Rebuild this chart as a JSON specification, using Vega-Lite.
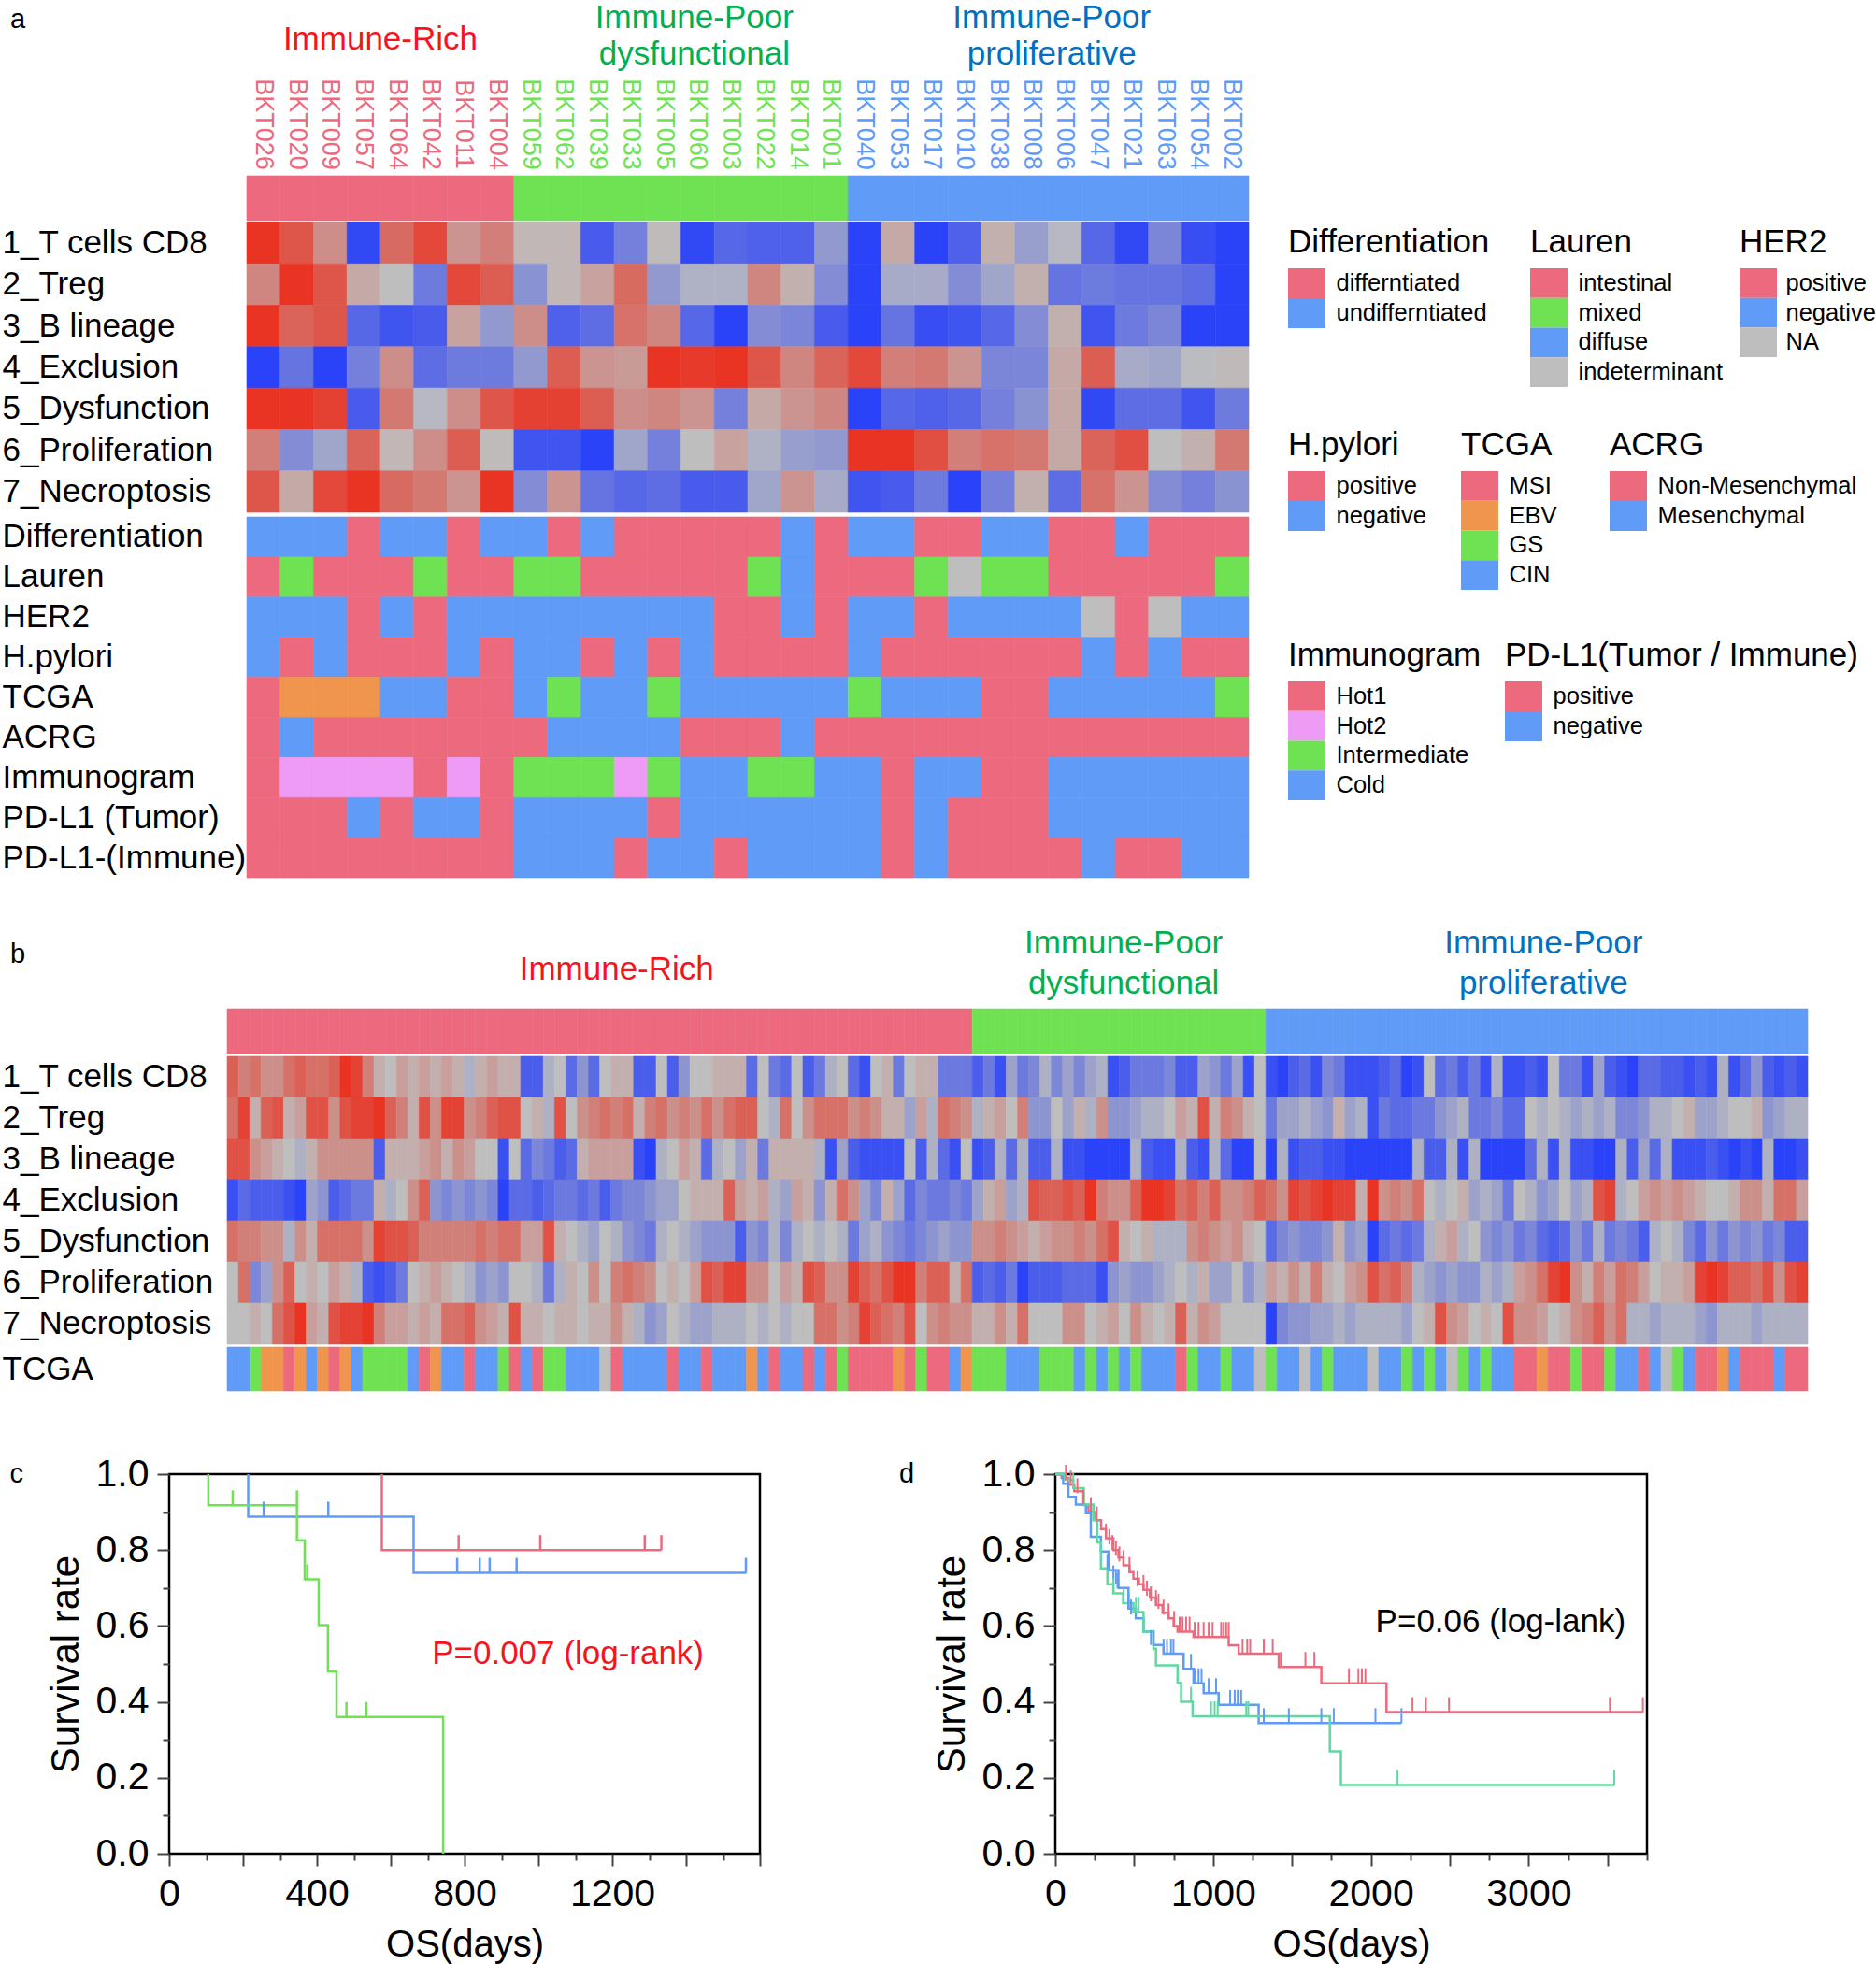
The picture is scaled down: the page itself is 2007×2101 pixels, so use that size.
{"$schema":"https://vega.github.io/schema/vega-lite/v6.json","padding":{"left":0,"right":0,"top":-6,"bottom":0},"background":"white","config":{"view":{"stroke":null},"font":"Liberation Sans","title":{"fontWeight":"normal"}},
"datasets":{
"A":[
{"s":"BKT026","g":"p","cd8":1,"treg":0.4,"bl":1,"exc":-1,"dys":1,"pro":0.45,"nec":0.75,"Dif":"n","Lau":"p","Her":"n","Pyl":"n","Tcg":"p","Acr":"p","Imm":"p","Tum":"p","Imu":"p"},
{"s":"BKT020","g":"p","cd8":0.75,"treg":1,"bl":0.65,"exc":-0.6,"dys":1,"pro":-0.4,"nec":0.15,"Dif":"n","Lau":"g","Her":"n","Pyl":"p","Tcg":"e","Acr":"n","Imm":"h","Tum":"p","Imu":"p"},
{"s":"BKT009","g":"p","cd8":0.35,"treg":0.75,"bl":0.75,"exc":-1,"dys":0.9,"pro":-0.2,"nec":0.85,"Dif":"n","Lau":"p","Her":"n","Pyl":"n","Tcg":"e","Acr":"p","Imm":"h","Tum":"p","Imu":"p"},
{"s":"BKT057","g":"p","cd8":-0.95,"treg":0.15,"bl":-0.7,"exc":-0.5,"dys":-0.8,"pro":0.65,"nec":1,"Dif":"p","Lau":"p","Her":"p","Pyl":"p","Tcg":"e","Acr":"p","Imm":"h","Tum":"n","Imu":"p"},
{"s":"BKT064","g":"p","cd8":0.6,"treg":0,"bl":-0.85,"exc":0.35,"dys":0.5,"pro":0.05,"nec":0.6,"Dif":"n","Lau":"p","Her":"n","Pyl":"p","Tcg":"n","Acr":"p","Imm":"h","Tum":"p","Imu":"p"},
{"s":"BKT042","g":"p","cd8":0.85,"treg":-0.55,"bl":-0.8,"exc":-0.65,"dys":-0.05,"pro":0.35,"nec":0.5,"Dif":"n","Lau":"g","Her":"p","Pyl":"p","Tcg":"n","Acr":"p","Imm":"p","Tum":"n","Imu":"p"},
{"s":"BKT011","g":"p","cd8":0.3,"treg":0.85,"bl":0.2,"exc":-0.55,"dys":0.35,"pro":0.7,"nec":0.3,"Dif":"p","Lau":"p","Her":"n","Pyl":"n","Tcg":"p","Acr":"p","Imm":"h","Tum":"n","Imu":"p"},
{"s":"BKT004","g":"p","cd8":0.45,"treg":0.7,"bl":-0.3,"exc":-0.55,"dys":0.75,"pro":0.02,"nec":1,"Dif":"n","Lau":"p","Her":"n","Pyl":"p","Tcg":"p","Acr":"p","Imm":"p","Tum":"p","Imu":"p"},
{"s":"BKT059","g":"g","cd8":0.05,"treg":-0.35,"bl":0.35,"exc":-0.3,"dys":0.9,"pro":-0.85,"nec":-0.4,"Dif":"n","Lau":"g","Her":"n","Pyl":"n","Tcg":"n","Acr":"p","Imm":"g","Tum":"n","Imu":"n"},
{"s":"BKT062","g":"g","cd8":0.05,"treg":0.05,"bl":-0.75,"exc":0.7,"dys":0.9,"pro":-0.85,"nec":0.3,"Dif":"p","Lau":"g","Her":"n","Pyl":"n","Tcg":"g","Acr":"n","Imm":"g","Tum":"n","Imu":"n"},
{"s":"BKT039","g":"g","cd8":-0.8,"treg":0.2,"bl":-0.65,"exc":0.3,"dys":0.7,"pro":-1,"nec":-0.6,"Dif":"n","Lau":"p","Her":"n","Pyl":"p","Tcg":"n","Acr":"n","Imm":"g","Tum":"n","Imu":"n"},
{"s":"BKT033","g":"g","cd8":-0.5,"treg":0.6,"bl":0.55,"exc":0.25,"dys":0.35,"pro":-0.2,"nec":-0.7,"Dif":"p","Lau":"p","Her":"n","Pyl":"n","Tcg":"n","Acr":"n","Imm":"h","Tum":"n","Imu":"p"},
{"s":"BKT005","g":"g","cd8":0.02,"treg":-0.3,"bl":0.4,"exc":1,"dys":0.4,"pro":-0.5,"nec":-0.65,"Dif":"p","Lau":"p","Her":"n","Pyl":"p","Tcg":"g","Acr":"n","Imm":"g","Tum":"p","Imu":"n"},
{"s":"BKT060","g":"g","cd8":-0.95,"treg":-0.1,"bl":-0.7,"exc":0.95,"dys":0.3,"pro":0,"nec":-0.8,"Dif":"p","Lau":"p","Her":"n","Pyl":"n","Tcg":"n","Acr":"p","Imm":"n","Tum":"n","Imu":"n"},
{"s":"BKT003","g":"g","cd8":-0.7,"treg":-0.1,"bl":-1,"exc":1,"dys":-0.5,"pro":0.2,"nec":-0.8,"Dif":"p","Lau":"p","Her":"p","Pyl":"p","Tcg":"n","Acr":"p","Imm":"n","Tum":"n","Imu":"p"},
{"s":"BKT022","g":"g","cd8":-0.75,"treg":0.4,"bl":-0.4,"exc":0.75,"dys":0.15,"pro":-0.1,"nec":-0.2,"Dif":"p","Lau":"g","Her":"p","Pyl":"p","Tcg":"n","Acr":"p","Imm":"g","Tum":"n","Imu":"n"},
{"s":"BKT014","g":"g","cd8":-0.75,"treg":0.1,"bl":-0.45,"exc":0.4,"dys":0.3,"pro":-0.25,"nec":0.3,"Dif":"n","Lau":"n","Her":"n","Pyl":"p","Tcg":"n","Acr":"n","Imm":"g","Tum":"n","Imu":"n"},
{"s":"BKT001","g":"g","cd8":-0.3,"treg":-0.4,"bl":-0.8,"exc":0.65,"dys":0.4,"pro":-0.3,"nec":-0.15,"Dif":"p","Lau":"p","Her":"p","Pyl":"p","Tcg":"n","Acr":"p","Imm":"n","Tum":"n","Imu":"n"},
{"s":"BKT040","g":"n","cd8":-1,"treg":-1,"bl":-1,"exc":0.85,"dys":-1,"pro":1,"nec":-0.85,"Dif":"n","Lau":"p","Her":"n","Pyl":"n","Tcg":"g","Acr":"p","Imm":"n","Tum":"n","Imu":"n"},
{"s":"BKT053","g":"n","cd8":0.15,"treg":-0.15,"bl":-0.6,"exc":0.45,"dys":-0.7,"pro":1,"nec":-0.8,"Dif":"n","Lau":"p","Her":"n","Pyl":"p","Tcg":"n","Acr":"p","Imm":"p","Tum":"p","Imu":"p"},
{"s":"BKT017","g":"n","cd8":-1,"treg":-0.15,"bl":-0.9,"exc":0.5,"dys":-0.75,"pro":0.8,"nec":-0.55,"Dif":"p","Lau":"g","Her":"p","Pyl":"p","Tcg":"n","Acr":"p","Imm":"n","Tum":"n","Imu":"n"},
{"s":"BKT010","g":"n","cd8":-0.75,"treg":-0.4,"bl":-0.85,"exc":0.3,"dys":-0.7,"pro":0.45,"nec":-1,"Dif":"p","Lau":"x","Her":"n","Pyl":"p","Tcg":"n","Acr":"p","Imm":"n","Tum":"p","Imu":"p"},
{"s":"BKT038","g":"n","cd8":0.1,"treg":-0.2,"bl":-0.7,"exc":-0.45,"dys":-0.5,"pro":0.55,"nec":-0.5,"Dif":"n","Lau":"g","Her":"n","Pyl":"p","Tcg":"p","Acr":"p","Imm":"p","Tum":"p","Imu":"p"},
{"s":"BKT008","g":"n","cd8":-0.25,"treg":0.1,"bl":-0.4,"exc":-0.45,"dys":-0.35,"pro":0.5,"nec":0.1,"Dif":"n","Lau":"g","Her":"n","Pyl":"p","Tcg":"p","Acr":"p","Imm":"p","Tum":"p","Imu":"p"},
{"s":"BKT006","g":"n","cd8":-0.05,"treg":-0.6,"bl":0.1,"exc":0.15,"dys":0.15,"pro":0.15,"nec":-0.65,"Dif":"p","Lau":"p","Her":"n","Pyl":"p","Tcg":"n","Acr":"p","Imm":"n","Tum":"n","Imu":"p"},
{"s":"BKT047","g":"n","cd8":-0.7,"treg":-0.55,"bl":-0.85,"exc":0.7,"dys":-0.95,"pro":0.65,"nec":0.55,"Dif":"p","Lau":"p","Her":"x","Pyl":"n","Tcg":"n","Acr":"p","Imm":"n","Tum":"n","Imu":"n"},
{"s":"BKT021","g":"n","cd8":-0.95,"treg":-0.6,"bl":-0.55,"exc":-0.15,"dys":-0.65,"pro":0.8,"nec":0.3,"Dif":"n","Lau":"p","Her":"p","Pyl":"p","Tcg":"n","Acr":"p","Imm":"n","Tum":"n","Imu":"p"},
{"s":"BKT063","g":"n","cd8":-0.45,"treg":-0.6,"bl":-0.45,"exc":-0.2,"dys":-0.65,"pro":0,"nec":-0.4,"Dif":"p","Lau":"p","Her":"x","Pyl":"n","Tcg":"n","Acr":"p","Imm":"n","Tum":"n","Imu":"p"},
{"s":"BKT054","g":"n","cd8":-0.9,"treg":-0.65,"bl":-1,"exc":-0.02,"dys":-0.85,"pro":0.1,"nec":-0.5,"Dif":"p","Lau":"p","Her":"n","Pyl":"p","Tcg":"n","Acr":"p","Imm":"n","Tum":"n","Imu":"n"},
{"s":"BKT002","g":"n","cd8":-1,"treg":-1,"bl":-1,"exc":0.03,"dys":-0.55,"pro":0.5,"nec":-0.35,"Dif":"p","Lau":"g","Her":"n","Pyl":"p","Tcg":"g","Acr":"p","Imm":"n","Tum":"n","Imu":"n"}
],
"B":[
{"c":0,"g":"p","r1":6,"r2":5,"r3":7,"r4":-8,"r5":5,"r6":0,"r7":0,"tc":"n"},{"c":1,"g":"p","r1":4,"r2":8,"r3":7,"r4":-6,"r5":4,"r6":5,"r7":0,"tc":"n"},{"c":2,"g":"p","r1":5,"r2":1,"r3":3,"r4":-7,"r5":4,"r6":-4,"r7":1,"tc":"g"},{"c":3,"g":"p","r1":3,"r2":6,"r3":2,"r4":-7,"r5":3,"r6":-2,"r7":0,"tc":"e"},{"c":4,"g":"p","r1":3,"r2":7,"r3":1,"r4":-7,"r5":3,"r6":3,"r7":5,"tc":"e"},{"c":5,"g":"p","r1":5,"r2":1,"r3":0,"r4":-8,"r5":-1,"r6":6,"r7":7,"tc":"p"},{"c":6,"g":"p","r1":6,"r2":2,"r3":-1,"r4":-9,"r5":3,"r6":0,"r7":9,"tc":"e"},{"c":7,"g":"p","r1":5,"r2":7,"r3":1,"r4":-2,"r5":1,"r6":1,"r7":2,"tc":"n"},{"c":8,"g":"p","r1":5,"r2":7,"r3":3,"r4":-3,"r5":5,"r6":0,"r7":1,"tc":"e"},{"c":9,"g":"p","r1":6,"r2":3,"r3":3,"r4":-7,"r5":5,"r6":2,"r7":7,"tc":"p"},
{"c":10,"g":"p","r1":9,"r2":7,"r3":3,"r4":-6,"r5":5,"r6":1,"r7":8,"tc":"e"},{"c":11,"g":"p","r1":8,"r2":8,"r3":3,"r4":-5,"r5":5,"r6":-1,"r7":8,"tc":"n"},{"c":12,"g":"p","r1":4,"r2":8,"r3":3,"r4":-5,"r5":3,"r6":-7,"r7":9,"tc":"g"},{"c":13,"g":"p","r1":1,"r2":9,"r3":-7,"r4":1,"r5":8,"r6":-8,"r7":4,"tc":"g"},{"c":14,"g":"p","r1":0,"r2":6,"r3":1,"r4":-1,"r5":7,"r6":-7,"r7":2,"tc":"g"},{"c":15,"g":"p","r1":2,"r2":4,"r3":1,"r4":0,"r5":7,"r6":-5,"r7":2,"tc":"g"},{"c":16,"g":"p","r1":1,"r2":1,"r3":1,"r4":3,"r5":6,"r6":0,"r7":1,"tc":"n"},{"c":17,"g":"p","r1":2,"r2":7,"r3":2,"r4":6,"r5":4,"r6":1,"r7":2,"tc":"p"},{"c":18,"g":"p","r1":1,"r2":3,"r3":3,"r4":-3,"r5":4,"r6":2,"r7":1,"tc":"e"},{"c":19,"g":"p","r1":2,"r2":8,"r3":1,"r4":-4,"r5":4,"r6":1,"r7":5,"tc":"n"},
{"c":20,"g":"p","r1":1,"r2":8,"r3":3,"r4":-3,"r5":4,"r6":0,"r7":5,"tc":"n"},{"c":21,"g":"p","r1":-1,"r2":3,"r3":2,"r4":-4,"r5":4,"r6":-1,"r7":6,"tc":"p"},{"c":22,"g":"p","r1":1,"r2":4,"r3":0,"r4":-3,"r5":5,"r6":-3,"r7":3,"tc":"n"},{"c":23,"g":"p","r1":2,"r2":6,"r3":0,"r4":-4,"r5":4,"r6":-2,"r7":2,"tc":"n"},{"c":24,"g":"p","r1":1,"r2":7,"r3":-8,"r4":-9,"r5":5,"r6":-3,"r7":1,"tc":"g"},{"c":25,"g":"p","r1":1,"r2":7,"r3":0,"r4":-6,"r5":5,"r6":0,"r7":7,"tc":"p"},{"c":26,"g":"p","r1":-7,"r2":0,"r3":-6,"r4":-6,"r5":2,"r6":0,"r7":1,"tc":"n"},{"c":27,"g":"p","r1":-7,"r2":1,"r3":-4,"r4":-7,"r5":2,"r6":-1,"r7":1,"tc":"p"},{"c":28,"g":"p","r1":-1,"r2":-1,"r3":-5,"r4":-6,"r5":7,"r6":-5,"r7":0,"tc":"g"},{"c":29,"g":"p","r1":0,"r2":7,"r3":-7,"r4":-5,"r5":1,"r6":-1,"r7":1,"tc":"g"},
{"c":30,"g":"p","r1":-6,"r2":0,"r3":-6,"r4":-5,"r5":0,"r6":1,"r7":1,"tc":"n"},{"c":31,"g":"p","r1":-3,"r2":3,"r3":1,"r4":-6,"r5":-1,"r6":0,"r7":0,"tc":"n"},{"c":32,"g":"p","r1":-6,"r2":4,"r3":2,"r4":-5,"r5":-2,"r6":3,"r7":1,"tc":"n"},{"c":33,"g":"p","r1":0,"r2":5,"r3":2,"r4":-7,"r5":0,"r6":0,"r7":1,"tc":"x"},{"c":34,"g":"p","r1":1,"r2":4,"r3":2,"r4":-5,"r5":-1,"r6":4,"r7":3,"tc":"p"},{"c":35,"g":"p","r1":1,"r2":5,"r3":2,"r4":-4,"r5":-3,"r6":5,"r7":1,"tc":"n"},{"c":36,"g":"p","r1":-7,"r2":1,"r3":-8,"r4":-4,"r5":-4,"r6":4,"r7":-1,"tc":"n"},{"c":37,"g":"p","r1":-7,"r2":4,"r3":-9,"r4":-3,"r5":-5,"r6":3,"r7":-3,"tc":"n"},{"c":38,"g":"p","r1":0,"r2":5,"r3":-1,"r4":-2,"r5":-1,"r6":0,"r7":-2,"tc":"n"},{"c":39,"g":"p","r1":-7,"r2":3,"r3":0,"r4":-2,"r5":0,"r6":1,"r7":0,"tc":"p"},
{"c":40,"g":"p","r1":-3,"r2":4,"r3":2,"r4":0,"r5":-1,"r6":0,"r7":-1,"tc":"n"},{"c":41,"g":"p","r1":0,"r2":3,"r3":1,"r4":1,"r5":-2,"r6":2,"r7":-2,"tc":"n"},{"c":42,"g":"p","r1":0,"r2":5,"r3":-6,"r4":1,"r5":-3,"r6":7,"r7":-2,"tc":"p"},{"c":43,"g":"p","r1":1,"r2":3,"r3":-1,"r4":1,"r5":-3,"r6":6,"r7":-1,"tc":"n"},{"c":44,"g":"p","r1":1,"r2":5,"r3":0,"r4":6,"r5":-3,"r6":8,"r7":-1,"tc":"n"},{"c":45,"g":"p","r1":1,"r2":6,"r3":-2,"r4":2,"r5":-7,"r6":8,"r7":-1,"tc":"n"},{"c":46,"g":"p","r1":-6,"r2":6,"r3":1,"r4":1,"r5":-3,"r6":3,"r7":0,"tc":"e"},{"c":47,"g":"p","r1":0,"r2":0,"r3":-5,"r4":2,"r5":-4,"r6":3,"r7":-1,"tc":"n"},{"c":48,"g":"p","r1":-5,"r2":-1,"r3":1,"r4":-1,"r5":-1,"r6":0,"r7":0,"tc":"p"},{"c":49,"g":"p","r1":-6,"r2":5,"r3":1,"r4":-2,"r5":-4,"r6":2,"r7":-1,"tc":"n"},
{"c":50,"g":"p","r1":0,"r2":0,"r3":1,"r4":2,"r5":-1,"r6":1,"r7":0,"tc":"n"},{"c":51,"g":"p","r1":-7,"r2":3,"r3":1,"r4":1,"r5":0,"r6":7,"r7":0,"tc":"p"},{"c":52,"g":"p","r1":-5,"r2":5,"r3":-1,"r4":-3,"r5":-1,"r6":6,"r7":5,"tc":"n"},{"c":53,"g":"p","r1":-1,"r2":5,"r3":-8,"r4":1,"r5":0,"r6":3,"r7":5,"tc":"p"},{"c":54,"g":"p","r1":0,"r2":5,"r3":-2,"r4":5,"r5":-1,"r6":3,"r7":3,"tc":"g"},{"c":55,"g":"p","r1":-6,"r2":3,"r3":-7,"r4":3,"r5":-5,"r6":8,"r7":4,"tc":"p"},{"c":56,"g":"p","r1":-8,"r2":4,"r3":-8,"r4":-2,"r5":-2,"r6":6,"r7":8,"tc":"p"},{"c":57,"g":"p","r1":0,"r2":3,"r3":-8,"r4":-4,"r5":-1,"r6":5,"r7":6,"tc":"p"},{"c":58,"g":"p","r1":1,"r2":1,"r3":-8,"r4":1,"r5":-3,"r6":7,"r7":5,"tc":"p"},{"c":59,"g":"p","r1":-5,"r2":1,"r3":-8,"r4":-2,"r5":-4,"r6":9,"r7":4,"tc":"e"},
{"c":60,"g":"p","r1":0,"r2":-2,"r3":0,"r4":-6,"r5":-5,"r6":9,"r7":7,"tc":"p"},{"c":61,"g":"p","r1":1,"r2":2,"r3":-7,"r4":-4,"r5":-4,"r6":4,"r7":0,"tc":"g"},{"c":62,"g":"p","r1":1,"r2":-1,"r3":-1,"r4":-5,"r5":-3,"r6":6,"r7":3,"tc":"p"},{"c":63,"g":"p","r1":-5,"r2":5,"r3":-6,"r4":-5,"r5":-2,"r6":6,"r7":4,"tc":"p"},{"c":64,"g":"p","r1":-5,"r2":4,"r3":-8,"r4":-4,"r5":-3,"r6":1,"r7":3,"tc":"n"},{"c":65,"g":"p","r1":-5,"r2":3,"r3":0,"r4":-5,"r5":-3,"r6":5,"r7":3,"tc":"e"},
{"c":66,"g":"g","r1":-7,"r2":-1,"r3":-8,"r4":-2,"r5":3,"r6":-7,"r7":1,"tc":"g"},{"c":67,"g":"g","r1":-5,"r2":1,"r3":-7,"r4":1,"r5":3,"r6":-6,"r7":1,"tc":"g"},{"c":68,"g":"g","r1":-8,"r2":2,"r3":-1,"r4":2,"r5":4,"r6":-7,"r7":3,"tc":"g"},{"c":69,"g":"g","r1":-2,"r2":0,"r3":-6,"r4":-2,"r5":3,"r6":-5,"r7":1,"tc":"n"},
{"c":70,"g":"g","r1":-5,"r2":4,"r3":-1,"r4":-1,"r5":2,"r6":-9,"r7":5,"tc":"n"},{"c":71,"g":"g","r1":-4,"r2":-3,"r3":-7,"r4":7,"r5":1,"r6":-7,"r7":0,"tc":"n"},{"c":72,"g":"g","r1":-1,"r2":-3,"r3":-7,"r4":6,"r5":2,"r6":-7,"r7":0,"tc":"g"},{"c":73,"g":"g","r1":-4,"r2":0,"r3":-1,"r4":6,"r5":3,"r6":-7,"r7":0,"tc":"g"},{"c":74,"g":"g","r1":-2,"r2":-2,"r3":-8,"r4":7,"r5":3,"r6":-6,"r7":3,"tc":"g"},{"c":75,"g":"g","r1":-4,"r2":1,"r3":-8,"r4":6,"r5":4,"r6":-6,"r7":3,"tc":"n"},{"c":76,"g":"g","r1":-2,"r2":-1,"r3":-9,"r4":9,"r5":3,"r6":-6,"r7":0,"tc":"g"},{"c":77,"g":"g","r1":-1,"r2":3,"r3":-9,"r4":4,"r5":5,"r6":-8,"r7":1,"tc":"n"},{"c":78,"g":"g","r1":-8,"r2":-3,"r3":-9,"r4":3,"r5":7,"r6":-3,"r7":2,"tc":"g"},{"c":79,"g":"g","r1":-7,"r2":-3,"r3":-9,"r4":3,"r5":1,"r6":-2,"r7":0,"tc":"n"},
{"c":80,"g":"g","r1":-5,"r2":-2,"r3":-1,"r4":6,"r5":0,"r6":-3,"r7":3,"tc":"g"},{"c":81,"g":"g","r1":-5,"r2":-1,"r3":-7,"r4":9,"r5":1,"r6":-3,"r7":1,"tc":"n"},{"c":82,"g":"g","r1":-5,"r2":-1,"r3":-8,"r4":9,"r5":-1,"r6":-2,"r7":0,"tc":"n"},{"c":83,"g":"g","r1":-4,"r2":0,"r3":-8,"r4":8,"r5":-1,"r6":-1,"r7":1,"tc":"n"},{"c":84,"g":"g","r1":-7,"r2":2,"r3":-1,"r4":5,"r5":-1,"r6":0,"r7":6,"tc":"p"},{"c":85,"g":"g","r1":-7,"r2":1,"r3":-7,"r4":6,"r5":3,"r6":-1,"r7":1,"tc":"g"},{"c":86,"g":"g","r1":-2,"r2":7,"r3":-8,"r4":4,"r5":4,"r6":1,"r7":3,"tc":"n"},{"c":87,"g":"g","r1":-3,"r2":1,"r3":-1,"r4":6,"r5":3,"r6":-2,"r7":2,"tc":"n"},{"c":88,"g":"g","r1":-5,"r2":4,"r3":-6,"r4":3,"r5":2,"r6":-2,"r7":0,"tc":"g"},{"c":89,"g":"g","r1":-2,"r2":3,"r3":-9,"r4":3,"r5":3,"r6":0,"r7":0,"tc":"n"},
{"c":90,"g":"g","r1":-8,"r2":1,"r3":-9,"r4":4,"r5":1,"r6":-3,"r7":0,"tc":"n"},{"c":91,"g":"g","r1":0,"r2":0,"r3":0,"r4":6,"r5":0,"r6":-1,"r7":0,"tc":"x"},
{"c":92,"g":"n","r1":-8,"r2":-5,"r3":-9,"r4":5,"r5":-6,"r6":2,"r7":-9,"tc":"g"},{"c":93,"g":"n","r1":-9,"r2":-2,"r3":-1,"r4":3,"r5":-4,"r6":1,"r7":-4,"tc":"n"},{"c":94,"g":"n","r1":-7,"r2":-2,"r3":-8,"r4":8,"r5":-3,"r6":3,"r7":-3,"tc":"n"},{"c":95,"g":"n","r1":-6,"r2":-1,"r3":-7,"r4":7,"r5":-4,"r6":1,"r7":-3,"tc":"x"},{"c":96,"g":"n","r1":-8,"r2":-2,"r3":-7,"r4":8,"r5":-4,"r6":4,"r7":-2,"tc":"n"},{"c":97,"g":"n","r1":-4,"r2":-3,"r3":-8,"r4":9,"r5":-3,"r6":1,"r7":-2,"tc":"g"},{"c":98,"g":"n","r1":-5,"r2":1,"r3":-8,"r4":8,"r5":1,"r6":0,"r7":-1,"tc":"n"},{"c":99,"g":"n","r1":-8,"r2":-2,"r3":-9,"r4":8,"r5":-3,"r6":2,"r7":-2,"tc":"n"},
{"c":100,"g":"n","r1":-8,"r2":-1,"r3":-9,"r4":1,"r5":-2,"r6":3,"r7":-1,"tc":"n"},{"c":101,"g":"n","r1":-8,"r2":-8,"r3":-9,"r4":9,"r5":-9,"r6":7,"r7":-1,"tc":"x"},{"c":102,"g":"n","r1":-7,"r2":-5,"r3":-9,"r4":3,"r5":-6,"r6":5,"r7":-1,"tc":"n"},{"c":103,"g":"n","r1":-6,"r2":-6,"r3":-9,"r4":4,"r5":-5,"r6":6,"r7":-1,"tc":"n"},{"c":104,"g":"n","r1":-9,"r2":-6,"r3":-9,"r4":3,"r5":-6,"r6":4,"r7":-2,"tc":"g"},{"c":105,"g":"n","r1":-8,"r2":-5,"r3":-1,"r4":5,"r5":-5,"r6":-1,"r7":0,"tc":"n"},{"c":106,"g":"n","r1":0,"r2":-5,"r3":-7,"r4":0,"r5":-1,"r6":-2,"r7":1,"tc":"g"},{"c":107,"g":"n","r1":-6,"r2":-3,"r3":-7,"r4":-1,"r5":1,"r6":-3,"r7":7,"tc":"n"},{"c":108,"g":"n","r1":-5,"r2":-2,"r3":-1,"r4":0,"r5":2,"r6":-2,"r7":3,"tc":"x"},{"c":109,"g":"n","r1":-7,"r2":-1,"r3":-8,"r4":1,"r5":-1,"r6":-3,"r7":2,"tc":"g"},
{"c":110,"g":"n","r1":-5,"r2":-5,"r3":-1,"r4":-2,"r5":0,"r6":-3,"r7":0,"tc":"n"},{"c":111,"g":"n","r1":-8,"r2":-5,"r3":-9,"r4":-1,"r5":-3,"r6":-1,"r7":1,"tc":"g"},{"c":112,"g":"n","r1":-1,"r2":-4,"r3":-9,"r4":-2,"r5":-4,"r6":-2,"r7":0,"tc":"n"},{"c":113,"g":"n","r1":-8,"r2":-6,"r3":-9,"r4":-5,"r5":-3,"r6":-1,"r7":7,"tc":"n"},{"c":114,"g":"n","r1":-8,"r2":-6,"r3":-9,"r4":0,"r5":-5,"r6":2,"r7":3,"tc":"p"},{"c":115,"g":"n","r1":-7,"r2":0,"r3":-6,"r4":-1,"r5":-4,"r6":3,"r7":3,"tc":"p"},{"c":116,"g":"n","r1":-8,"r2":-1,"r3":-1,"r4":-3,"r5":-6,"r6":5,"r7":2,"tc":"e"},{"c":117,"g":"n","r1":0,"r2":0,"r3":-8,"r4":-2,"r5":-7,"r6":8,"r7":0,"tc":"p"},{"c":118,"g":"n","r1":-5,"r2":-1,"r3":-1,"r4":0,"r5":-6,"r6":9,"r7":1,"tc":"p"},{"c":119,"g":"n","r1":-5,"r2":-2,"r3":-8,"r4":-2,"r5":-3,"r6":3,"r7":3,"tc":"g"},
{"c":120,"g":"n","r1":-8,"r2":-1,"r3":-8,"r4":-1,"r5":-5,"r6":1,"r7":4,"tc":"p"},{"c":121,"g":"n","r1":-2,"r2":-2,"r3":-9,"r4":7,"r5":-1,"r6":4,"r7":6,"tc":"p"},{"c":122,"g":"n","r1":-7,"r2":-1,"r3":-9,"r4":8,"r5":-5,"r6":2,"r7":3,"tc":"g"},{"c":123,"g":"n","r1":-8,"r2":-4,"r3":-1,"r4":-1,"r5":-4,"r6":5,"r7":5,"tc":"n"},{"c":124,"g":"n","r1":-9,"r2":-4,"r3":-7,"r4":0,"r5":-5,"r6":4,"r7":-1,"tc":"n"},{"c":125,"g":"n","r1":-6,"r2":-3,"r3":-2,"r4":2,"r5":-7,"r6":2,"r7":-1,"tc":"p"},{"c":126,"g":"n","r1":-6,"r2":-1,"r3":-6,"r4":3,"r5":-1,"r6":0,"r7":-2,"tc":"n"},{"c":127,"g":"n","r1":-7,"r2":-1,"r3":-1,"r4":2,"r5":0,"r6":1,"r7":-1,"tc":"x"},{"c":128,"g":"n","r1":-7,"r2":0,"r3":-8,"r4":3,"r5":-1,"r6":1,"r7":-1,"tc":"g"},{"c":129,"g":"n","r1":-8,"r2":1,"r3":-8,"r4":2,"r5":-4,"r6":2,"r7":-1,"tc":"n"},
{"c":130,"g":"n","r1":-7,"r2":-2,"r3":-8,"r4":1,"r5":-6,"r6":8,"r7":-2,"tc":"p"},{"c":131,"g":"n","r1":-8,"r2":-2,"r3":-7,"r4":0,"r5":-3,"r6":9,"r7":-3,"tc":"p"},{"c":132,"g":"n","r1":-1,"r2":-1,"r3":-8,"r4":0,"r5":-5,"r6":8,"r7":-1,"tc":"e"},{"c":133,"g":"n","r1":-8,"r2":0,"r3":-9,"r4":1,"r5":-3,"r6":6,"r7":-1,"tc":"n"},{"c":134,"g":"n","r1":-6,"r2":0,"r3":-8,"r4":3,"r5":-4,"r6":6,"r7":-1,"tc":"p"},{"c":135,"g":"n","r1":-3,"r2":1,"r3":-9,"r4":3,"r5":-3,"r6":5,"r7":-2,"tc":"p"},{"c":136,"g":"n","r1":-7,"r2":-3,"r3":-1,"r4":1,"r5":-5,"r6":7,"r7":-1,"tc":"p"},{"c":137,"g":"n","r1":-8,"r2":-2,"r3":-9,"r4":5,"r5":-4,"r6":3,"r7":-1,"tc":"n"},{"c":138,"g":"n","r1":-7,"r2":-1,"r3":-9,"r4":5,"r5":-7,"r6":7,"r7":-1,"tc":"p"},{"c":139,"g":"n","r1":-8,"r2":-1,"r3":-8,"r4":2,"r5":-7,"r6":8,"r7":-1,"tc":"p"}
]
},
"resolve":{"scale":{"color":"independent","fill":"independent","stroke":"independent"}},
"vconcat":[
{"resolve":{"scale":{"color":"independent","fill":"independent","stroke":"independent"}},"vconcat":[
{"resolve":{"scale":{"color":"independent","fill":"independent","stroke":"independent"}},"hconcat":[
{"width":1,"height":1,"data":{"values":[{"n":""}]},"mark":{"type":"text"},"encoding":{"text":{"field":"n"}}},
{"resolve":{"scale":{"color":"independent","fill":"independent","stroke":"independent"}},"hconcat":[
{"resolve":{"scale":{"color":"independent","fill":"independent","stroke":"independent"}},"vconcat":[
{"resolve":{"scale":{"color":"independent","fill":"independent","stroke":"independent"}},"vconcat":[
{"width":1072,"height":79,"data":{"values":[{"x":0,"t":"a"},{"x":4,"t":"Immune-Rich"},{"x":13.4,"t":"Immune-Poor\ndysfunctional"},{"x":24.1,"t":"Immune-Poor\nproliferative"}]},"encoding":{"x":{"field":"x","type":"quantitative","scale":{"domain":[0,30]},"axis":null},"text":{"field":"t"}},"layer":[
{"transform":[{"filter":"datum.t=='a'"}],"mark":{"type":"text","fontSize":29,"dx":-245,"dy":-19,"color":"black"}},
{"transform":[{"filter":"datum.t=='Immune-Rich'"}],"mark":{"type":"text","fontSize":35,"color":"#F5141E","dy":2}},
{"transform":[{"filter":"datum.x==13.4"}],"mark":{"type":"text","fontSize":35,"color":"#00B050","lineBreak":"\n","lineHeight":39,"dy":-21}},
{"transform":[{"filter":"datum.x==24.1"}],"mark":{"type":"text","fontSize":35,"color":"#0070C0","lineBreak":"\n","lineHeight":39,"dy":-21}}
]},
{"width":1072,"height":102,"data":{"name":"A"},"mark":{"type":"text","angle":90,"fontSize":27},"encoding":{"x":{"field":"s","type":"nominal","sort":null,"axis":null},"text":{"field":"s"},"color":{"field":"g","type":"nominal","scale":{"domain":["p","g","n"],"range":["#ED6A7E","#6FE254","#5F9BF7"]},"legend":null}}},
{"width":1072,"height":48,"data":{"name":"A"},"mark":{"type":"rect","strokeWidth":0.6},"encoding":{"x":{"field":"s","type":"nominal","sort":null,"axis":null},"fill":{"field":"g","type":"nominal","scale":{"domain":["p","g","n"],"range":["#ED6A7E","#6FE254","#5F9BF7"]},"legend":null},"stroke":{"field":"g","type":"nominal","scale":{"domain":["p","g","n"],"range":["#ED6A7E","#6FE254","#5F9BF7"]},"legend":null}}}
],"spacing":3},
{"resolve":{"scale":{"color":"independent","fill":"independent","stroke":"independent"}},"vconcat":[
{"width":1072,"height":310,"data":{"name":"A"},"transform":[{"fold":["cd8","treg","bl","exc","dys","pro","nec"],"as":["k","v"]}],"mark":{"type":"rect","strokeWidth":0.6},"encoding":{"x":{"field":"s","type":"nominal","sort":null,"axis":null},"y":{"field":"k","type":"nominal","sort":["cd8","treg","bl","exc","dys","pro","nec"],"axis":{"title":null,"labelAlign":"left","labelPadding":262,"ticks":false,"domain":false,"labelFontSize":35,"labelColor":"black","labelLimit":500,"labelExpr":"{'cd8':'1_T cells CD8','treg':'2_Treg','bl':'3_B lineage','exc':'4_Exclusion','dys':'5_Dysfunction','pro':'6_Proliferation','nec':'7_Necroptosis'}[datum.value]"}},"fill":{"field":"v","type":"quantitative","scale":{"domain":[-1,0,1],"range":["#2A42F8","#BEBEBE","#E93323"],"interpolate":"rgb"},"legend":null},"stroke":{"field":"v","type":"quantitative","scale":{"domain":[-1,0,1],"range":["#2A42F8","#BEBEBE","#E93323"],"interpolate":"rgb"},"legend":null}}},
{"width":1072,"height":386,"data":{"name":"A"},"transform":[{"fold":["Dif","Lau","Her","Pyl","Tcg","Acr","Imm","Tum","Imu"],"as":["k","v"]}],"mark":{"type":"rect","strokeWidth":0.6},"encoding":{"x":{"field":"s","type":"nominal","sort":null,"axis":null},"y":{"field":"k","type":"nominal","sort":["Dif","Lau","Her","Pyl","Tcg","Acr","Imm","Tum","Imu"],"axis":{"title":null,"labelAlign":"left","labelPadding":262,"ticks":false,"domain":false,"labelFontSize":35,"labelColor":"black","labelLimit":500,"labelExpr":"{'Dif':'Differentiation','Lau':'Lauren','Her':'HER2','Pyl':'H.pylori','Tcg':'TCGA','Acr':'ACRG','Imm':'Immunogram','Tum':'PD-L1 (Tumor)','Imu':'PD-L1-(Immune)'}[datum.value]"}},"fill":{"field":"v","type":"nominal","scale":{"domain":["p","n","g","x","e","h"],"range":["#ED6A7E","#5F9BF7","#6FE254","#BEBEBE","#F0954E","#EE9BF5"]},"legend":null},"stroke":{"field":"v","type":"nominal","scale":{"domain":["p","n","g","x","e","h"],"range":["#ED6A7E","#5F9BF7","#6FE254","#BEBEBE","#F0954E","#EE9BF5"]},"legend":null}}}
],"spacing":3}
],"spacing":0},
{"resolve":{"scale":{"fill":"independent"}},"vconcat":[
{"width":1,"height":189,"data":{"values":[{"n":""}]},"mark":{"type":"text"},"encoding":{"text":{"field":"n"}}},
{"resolve":{"scale":{"fill":"independent"}},"vconcat":[
{"resolve":{"scale":{"fill":"independent"}},"hconcat":[{"resolve":{"scale":{"fill":"independent"}},"hconcat":[
{"width":40,"height":64,"title":{"text":"Differentiation","anchor":"start","fontSize":35,"offset":10},"data":{"values":[{"i":"differntiated","c":"p"},{"i":"undifferntiated","c":"n"}]},"mark":"rect","encoding":{"y":{"field":"i","type":"nominal","sort":null,"axis":{"orient":"right","title":null,"ticks":false,"domain":false,"labelFontSize":25.5,"labelPadding":11,"labelColor":"black","labelLimit":400}},"fill":{"field":"c","type":"nominal","scale":{"domain":["p","n","g","x","e","h"],"range":["#ED6A7E","#5F9BF7","#6FE254","#BEBEBE","#F0954E","#EE9BF5"]},"legend":null}}},
{"width":40,"height":127,"title":{"text":"Lauren","anchor":"start","fontSize":35,"offset":10},"data":{"values":[{"i":"intestinal","c":"p"},{"i":"mixed","c":"g"},{"i":"diffuse","c":"n"},{"i":"indeterminant","c":"x"}]},"mark":"rect","encoding":{"y":{"field":"i","type":"nominal","sort":null,"axis":{"orient":"right","title":null,"ticks":false,"domain":false,"labelFontSize":25.5,"labelPadding":11,"labelColor":"black","labelLimit":400}},"fill":{"field":"c","type":"nominal","scale":{"domain":["p","n","g","x","e","h"],"range":["#ED6A7E","#5F9BF7","#6FE254","#BEBEBE","#F0954E","#EE9BF5"]},"legend":null}}}
],"spacing":43},
{"width":40,"height":95,"title":{"text":"HER2","anchor":"start","fontSize":35,"offset":10},"data":{"values":[{"i":"positive","c":"p"},{"i":"negative","c":"n"},{"i":"NA","c":"x"}]},"mark":"rect","encoding":{"y":{"field":"i","type":"nominal","sort":null,"axis":{"orient":"right","title":null,"ticks":false,"domain":false,"labelFontSize":25.5,"labelPadding":9,"labelColor":"black","labelLimit":400}},"fill":{"field":"c","type":"nominal","scale":{"domain":["p","n","g","x","e","h"],"range":["#ED6A7E","#5F9BF7","#6FE254","#BEBEBE","#F0954E","#EE9BF5"]},"legend":null}}}
],"spacing":18},
{"resolve":{"scale":{"fill":"independent"}},"hconcat":[{"resolve":{"scale":{"fill":"independent"}},"hconcat":[
{"width":40,"height":64,"title":{"text":"H.pylori","anchor":"start","fontSize":35,"offset":10},"data":{"values":[{"i":"positive","c":"p"},{"i":"negative","c":"n"}]},"mark":"rect","encoding":{"y":{"field":"i","type":"nominal","sort":null,"axis":{"orient":"right","title":null,"ticks":false,"domain":false,"labelFontSize":25.5,"labelPadding":11,"labelColor":"black","labelLimit":400}},"fill":{"field":"c","type":"nominal","scale":{"domain":["p","n","g","x","e","h"],"range":["#ED6A7E","#5F9BF7","#6FE254","#BEBEBE","#F0954E","#EE9BF5"]},"legend":null}}},
{"width":40,"height":127,"title":{"text":"TCGA","anchor":"start","fontSize":35,"offset":10},"data":{"values":[{"i":"MSI","c":"p"},{"i":"EBV","c":"e"},{"i":"GS","c":"g"},{"i":"CIN","c":"n"}]},"mark":"rect","encoding":{"y":{"field":"i","type":"nominal","sort":null,"axis":{"orient":"right","title":null,"ticks":false,"domain":false,"labelFontSize":25.5,"labelPadding":11,"labelColor":"black","labelLimit":400}},"fill":{"field":"c","type":"nominal","scale":{"domain":["p","n","g","x","e","h"],"range":["#ED6A7E","#5F9BF7","#6FE254","#BEBEBE","#F0954E","#EE9BF5"]},"legend":null}}}
],"spacing":37},
{"width":40,"height":64,"title":{"text":"ACRG","anchor":"start","fontSize":35,"offset":10},"data":{"values":[{"i":"Non-Mesenchymal","c":"p"},{"i":"Mesenchymal","c":"n"}]},"mark":"rect","encoding":{"y":{"field":"i","type":"nominal","sort":null,"axis":{"orient":"right","title":null,"ticks":false,"domain":false,"labelFontSize":25.5,"labelPadding":11,"labelColor":"black","labelLimit":400}},"fill":{"field":"c","type":"nominal","scale":{"domain":["p","n","g","x","e","h"],"range":["#ED6A7E","#5F9BF7","#6FE254","#BEBEBE","#F0954E","#EE9BF5"]},"legend":null}}}
],"spacing":56}
],"spacing":45},
{"resolve":{"scale":{"fill":"independent"}},"hconcat":[
{"width":40,"height":127,"title":{"text":"Immunogram","anchor":"start","fontSize":35,"offset":10},"data":{"values":[{"i":"Hot1","c":"p"},{"i":"Hot2","c":"h"},{"i":"Intermediate","c":"g"},{"i":"Cold","c":"n"}]},"mark":"rect","encoding":{"y":{"field":"i","type":"nominal","sort":null,"axis":{"orient":"right","title":null,"ticks":false,"domain":false,"labelFontSize":25.5,"labelPadding":11,"labelColor":"black","labelLimit":400}},"fill":{"field":"c","type":"nominal","scale":{"domain":["p","n","g","x","e","h"],"range":["#ED6A7E","#5F9BF7","#6FE254","#BEBEBE","#F0954E","#EE9BF5"]},"legend":null}}},
{"width":40,"height":64,"title":{"text":"PD-L1(Tumor / Immune)","anchor":"start","fontSize":35,"offset":10},"data":{"values":[{"i":"positive","c":"p"},{"i":"negative","c":"n"}]},"mark":"rect","encoding":{"y":{"field":"i","type":"nominal","sort":null,"axis":{"orient":"right","title":null,"ticks":false,"domain":false,"labelFontSize":25.5,"labelPadding":11,"labelColor":"black","labelLimit":400}},"fill":{"field":"c","type":"nominal","scale":{"domain":["p","n","g","x","e","h"],"range":["#ED6A7E","#5F9BF7","#6FE254","#BEBEBE","#F0954E","#EE9BF5"]},"legend":null}}}
],"spacing":25}
],"spacing":53}
],"spacing":41}
],"spacing":1},
{"resolve":{"scale":{"color":"independent","fill":"independent","stroke":"independent"}},"hconcat":[
{"width":1,"height":1,"data":{"values":[{"n":""}]},"mark":{"type":"text"},"encoding":{"text":{"field":"n"}}},
{"resolve":{"scale":{"color":"independent","fill":"independent","stroke":"independent"}},"vconcat":[
{"width":1691,"height":87,"data":{"values":[{"x":0,"t":"b"},{"x":34.5,"t":"Immune-Rich"},{"x":79.4,"t":"Immune-Poor\ndysfunctional"},{"x":116.6,"t":"Immune-Poor\nproliferative"}]},"encoding":{"x":{"field":"x","type":"quantitative","scale":{"domain":[0,140]},"axis":null},"text":{"field":"t"}},"layer":[
{"transform":[{"filter":"datum.t=='b'"}],"mark":{"type":"text","fontSize":29,"dx":-224,"dy":-13,"color":"black"}},
{"transform":[{"filter":"datum.t=='Immune-Rich'"}],"mark":{"type":"text","fontSize":35,"color":"#F5141E","dy":3}},
{"transform":[{"filter":"datum.x==79.4"}],"mark":{"type":"text","fontSize":35,"color":"#00B050","lineBreak":"\n","lineHeight":43,"dy":-24.5}},
{"transform":[{"filter":"datum.x==116.6"}],"mark":{"type":"text","fontSize":35,"color":"#0070C0","lineBreak":"\n","lineHeight":43,"dy":-24.5}}
]},
{"width":1691,"height":48,"data":{"name":"B"},"mark":{"type":"rect","strokeWidth":0.6},"encoding":{"x":{"field":"c","type":"ordinal","axis":null},"fill":{"field":"g","type":"nominal","scale":{"domain":["p","g","n"],"range":["#ED6A7E","#6FE254","#5F9BF7"]},"legend":null},"stroke":{"field":"g","type":"nominal","scale":{"domain":["p","g","n"],"range":["#ED6A7E","#6FE254","#5F9BF7"]},"legend":null}}},
{"width":1691,"height":308,"data":{"name":"B"},"transform":[{"fold":["r1","r2","r3","r4","r5","r6","r7"],"as":["k","v"]}],"mark":{"type":"rect","strokeWidth":0.6},"encoding":{"x":{"field":"c","type":"ordinal","axis":null},"y":{"field":"k","type":"nominal","axis":{"title":null,"labelAlign":"left","labelPadding":241,"ticks":false,"domain":false,"labelFontSize":35,"labelColor":"black","labelLimit":500,"labelExpr":"{'r1':'1_T cells CD8','r2':'2_Treg','r3':'3_B lineage','r4':'4_Exclusion','r5':'5_Dysfunction','r6':'6_Proliferation','r7':'7_Necroptosis'}[datum.value]"}},"fill":{"field":"v","type":"quantitative","scale":{"domain":[-9,0,9],"range":["#2A42F8","#BEBEBE","#E93323"],"interpolate":"rgb"},"legend":null},"stroke":{"field":"v","type":"quantitative","scale":{"domain":[-9,0,9],"range":["#2A42F8","#BEBEBE","#E93323"],"interpolate":"rgb"},"legend":null}}},
{"width":1691,"height":47,"data":{"name":"B"},"mark":{"type":"rect","strokeWidth":0.6},"encoding":{"x":{"field":"c","type":"ordinal","axis":null},"y":{"datum":"TCGA","type":"nominal","axis":{"title":null,"labelAlign":"left","labelPadding":241,"ticks":false,"domain":false,"labelFontSize":35,"labelColor":"black"}},"fill":{"field":"tc","type":"nominal","scale":{"domain":["p","n","g","x","e","h"],"range":["#ED6A7E","#5F9BF7","#6FE254","#BEBEBE","#F0954E","#EE9BF5"]},"legend":null},"stroke":{"field":"tc","type":"nominal","scale":{"domain":["p","n","g","x","e","h"],"range":["#ED6A7E","#5F9BF7","#6FE254","#BEBEBE","#F0954E","#EE9BF5"]},"legend":null}}}
],"spacing":1}
],"spacing":1}
],"spacing":44},
{"resolve":{"scale":{"color":"independent"}},"hconcat":[
{"width":1,"height":1,"data":{"values":[{"n":""}]},"mark":{"type":"text"},"encoding":{"text":{"field":"n"}}},
{"resolve":{"scale":{"color":"independent"}},"hconcat":[
{"width":632,"height":406,"view":{"stroke":"black","strokeWidth":2.5},"encoding":{"x":{"field":"t","type":"quantitative","scale":{"domain":[0,1600],"nice":false},"axis":{"title":"OS(days)","values":[0,100,200,300,400,500,600,700,800,900,1000,1100,1200,1300,1400,1500,1600],"labelExpr":"datum.value%400==0&&datum.value<1600?datum.value:''","tickSize":{"condition":{"test":"datum.value%200==0","value":13},"value":7},"tickColor":"#444","tickWidth":2,"domain":false,"grid":false,"labelFontSize":41,"titleFontSize":40,"titleFontWeight":"normal","labelColor":"black","labelPadding":10,"titlePadding":14,"labelFlush":false,"labelOverlap":false}},"y":{"field":"s","type":"quantitative","scale":{"domain":[0,1],"nice":false},"axis":{"title":"Survival rate","values":[0,0.1,0.2,0.3,0.4,0.5,0.6,0.7,0.8,0.9,1],"labelExpr":"round(datum.value*10)%2==0?format(datum.value,'.1f'):''","tickSize":{"condition":{"test":"round(datum.value*10)%2==0","value":13},"value":7},"tickColor":"#444","tickWidth":2,"domain":false,"grid":false,"labelFontSize":41,"titleFontSize":42,"titleFontWeight":"normal","labelColor":"black","labelPadding":9,"titlePadding":10,"labelOverlap":false}}},
"layer":[
{"data":{"values":[{"g":"a","t":576,"s":1},{"g":"a","t":576,"s":0.8},{"g":"a","t":1333,"s":0.8},{"g":"b","t":214,"s":1},{"g":"b","t":214,"s":0.888},{"g":"b","t":662,"s":0.74},{"g":"b","t":1563,"s":0.74},{"g":"c","t":106,"s":1},{"g":"c","t":106,"s":0.918},{"g":"c","t":346,"s":0.826},{"g":"c","t":367,"s":0.723},{"g":"c","t":405,"s":0.602},{"g":"c","t":430,"s":0.48},{"g":"c","t":453,"s":0.36},{"g":"c","t":742,"s":0}]},"mark":{"type":"line","interpolate":"step-after","strokeWidth":2.5},"encoding":{"color":{"field":"g","type":"nominal","scale":{"domain":["a","b","c"],"range":["#ED6A7E","#5F9BF7","#6FE254"]},"legend":null}}},
{"data":{"values":[{"g":"a","t":784,"s":0.8},{"g":"a","t":1005,"s":0.8},{"g":"a","t":1288,"s":0.8},{"g":"a","t":1333,"s":0.8},{"g":"b","t":256,"s":0.888},{"g":"b","t":431,"s":0.888},{"g":"b","t":780,"s":0.74},{"g":"b","t":841,"s":0.74},{"g":"b","t":868,"s":0.74},{"g":"b","t":941,"s":0.74},{"g":"b","t":1562,"s":0.74},{"g":"c","t":172,"s":0.918},{"g":"c","t":346,"s":0.918},{"g":"c","t":374,"s":0.723},{"g":"c","t":480,"s":0.36},{"g":"c","t":534,"s":0.36}]},"mark":{"type":"point","shape":"M0,-1L0,0","filled":false,"strokeWidth":2.5,"size":1024,"opacity":1},"encoding":{"color":{"field":"g","type":"nominal","scale":{"domain":["a","b","c"],"range":["#ED6A7E","#5F9BF7","#6FE254"]},"legend":null}}},
{"data":{"values":[{"t":1080,"s":0.527,"k":"P=0.007 (log-rank)"}]},"mark":{"type":"text","fontSize":35,"color":"#F5141E"},"encoding":{"text":{"field":"k"}}},
{"data":{"values":[{"t":-413,"s":1,"k":"c"}]},"mark":{"type":"text","fontSize":29,"color":"black"},"encoding":{"text":{"field":"k"}}}
]},
{"width":633,"height":406,"view":{"stroke":"black","strokeWidth":2.5},"encoding":{"x":{"field":"t","type":"quantitative","scale":{"domain":[0,3750],"nice":false},"axis":{"title":"OS(days)","values":[0,250,500,750,1000,1250,1500,1750,2000,2250,2500,2750,3000,3250,3500,3750],"labelExpr":"datum.value%1000==0?datum.value:''","tickSize":{"condition":{"test":"datum.value%500==0","value":13},"value":7},"tickColor":"#444","tickWidth":2,"domain":false,"grid":false,"labelFontSize":41,"titleFontSize":40,"titleFontWeight":"normal","labelColor":"black","labelPadding":10,"titlePadding":14,"labelFlush":false,"labelOverlap":false}},"y":{"field":"s","type":"quantitative","scale":{"domain":[0,1],"nice":false},"axis":{"title":"Survival rate","values":[0,0.1,0.2,0.3,0.4,0.5,0.6,0.7,0.8,0.9,1],"labelExpr":"round(datum.value*10)%2==0?format(datum.value,'.1f'):''","tickSize":{"condition":{"test":"round(datum.value*10)%2==0","value":13},"value":7},"tickColor":"#444","tickWidth":2,"domain":false,"grid":false,"labelFontSize":41,"titleFontSize":42,"titleFontWeight":"normal","labelColor":"black","labelPadding":9,"titlePadding":10,"labelOverlap":false}}},
"layer":[
{"data":{"values":[{"g":"a","t":0,"s":1},{"g":"a","t":40,"s":0.99},{"g":"a","t":83,"s":0.972},{"g":"a","t":120,"s":0.955},{"g":"a","t":178,"s":0.919},{"g":"a","t":210,"s":0.9},{"g":"a","t":257,"s":0.879},{"g":"a","t":290,"s":0.855},{"g":"a","t":321,"s":0.831},{"g":"a","t":368,"s":0.8},{"g":"a","t":400,"s":0.78},{"g":"a","t":432,"s":0.76},{"g":"a","t":470,"s":0.742},{"g":"a","t":495,"s":0.725},{"g":"a","t":530,"s":0.71},{"g":"a","t":559,"s":0.695},{"g":"a","t":600,"s":0.675},{"g":"a","t":638,"s":0.655},{"g":"a","t":680,"s":0.635},{"g":"a","t":718,"s":0.62},{"g":"a","t":750,"s":0.6},{"g":"a","t":775,"s":0.585},{"g":"a","t":876,"s":0.571},{"g":"a","t":1099,"s":0.549},{"g":"a","t":1162,"s":0.527},{"g":"a","t":1416,"s":0.492},{"g":"a","t":1686,"s":0.449},{"g":"a","t":2099,"s":0.373},{"g":"a","t":3724,"s":0.373},
{"g":"b","t":0,"s":1},{"g":"b","t":50,"s":0.975},{"g":"b","t":83,"s":0.94},{"g":"b","t":130,"s":0.92},{"g":"b","t":194,"s":0.897},{"g":"b","t":225,"s":0.835},{"g":"b","t":289,"s":0.796},{"g":"b","t":337,"s":0.747},{"g":"b","t":400,"s":0.7},{"g":"b","t":464,"s":0.646},{"g":"b","t":510,"s":0.62},{"g":"b","t":559,"s":0.585},{"g":"b","t":622,"s":0.55},{"g":"b","t":686,"s":0.527},{"g":"b","t":813,"s":0.487},{"g":"b","t":876,"s":0.449},{"g":"b","t":940,"s":0.423},{"g":"b","t":1035,"s":0.392},{"g":"b","t":1289,"s":0.344},{"g":"b","t":2194,"s":0.344},
{"g":"c","t":0,"s":1},{"g":"c","t":60,"s":0.985},{"g":"c","t":114,"s":0.963},{"g":"c","t":180,"s":0.92},{"g":"c","t":241,"s":0.879},{"g":"c","t":265,"s":0.82},{"g":"c","t":289,"s":0.752},{"g":"c","t":330,"s":0.71},{"g":"c","t":368,"s":0.686},{"g":"c","t":430,"s":0.66},{"g":"c","t":495,"s":0.637},{"g":"c","t":559,"s":0.585},{"g":"c","t":622,"s":0.54},{"g":"c","t":638,"s":0.496},{"g":"c","t":775,"s":0.45},{"g":"c","t":797,"s":0.4},{"g":"c","t":870,"s":0.362},{"g":"c","t":1740,"s":0.27},{"g":"c","t":1810,"s":0.181},{"g":"c","t":3543,"s":0.181}]},"mark":{"type":"line","interpolate":"step-after","strokeWidth":2.5},"encoding":{"color":{"field":"g","type":"nominal","scale":{"domain":["a","b","c"],"range":["#ED6A7E","#5F9BF7","#5FD9A0"]},"legend":null}}},
{"data":{"values":[{"g":"a","t":67,"s":0.985},{"g":"a","t":98,"s":0.97},{"g":"a","t":140,"s":0.95},{"g":"a","t":178,"s":0.92},{"g":"a","t":225,"s":0.9},{"g":"a","t":263,"s":0.875},{"g":"a","t":321,"s":0.83},{"g":"a","t":343,"s":0.815},{"g":"a","t":362,"s":0.8},{"g":"a","t":384,"s":0.785},{"g":"a","t":406,"s":0.77},{"g":"a","t":432,"s":0.76},{"g":"a","t":470,"s":0.742},{"g":"a","t":521,"s":0.705},{"g":"a","t":559,"s":0.695},{"g":"a","t":581,"s":0.68},{"g":"a","t":606,"s":0.665},{"g":"a","t":638,"s":0.655},{"g":"a","t":654,"s":0.645},{"g":"a","t":686,"s":0.63},{"g":"a","t":718,"s":0.62},{"g":"a","t":753,"s":0.6},{"g":"a","t":788,"s":0.585},{"g":"a","t":807,"s":0.585},{"g":"a","t":829,"s":0.585},{"g":"a","t":851,"s":0.585},{"g":"a","t":883,"s":0.571},{"g":"a","t":908,"s":0.571},{"g":"a","t":940,"s":0.571},{"g":"a","t":972,"s":0.571},{"g":"a","t":997,"s":0.571},{"g":"a","t":1051,"s":0.571},{"g":"a","t":1067,"s":0.571},{"g":"a","t":1083,"s":0.571},{"g":"a","t":1099,"s":0.571},{"g":"a","t":1187,"s":0.527},{"g":"a","t":1216,"s":0.527},{"g":"a","t":1235,"s":0.527},{"g":"a","t":1321,"s":0.527},{"g":"a","t":1378,"s":0.527},{"g":"a","t":1429,"s":0.492},{"g":"a","t":1585,"s":0.492},{"g":"a","t":1642,"s":0.492},{"g":"a","t":1861,"s":0.449},{"g":"a","t":1921,"s":0.449},{"g":"a","t":1943,"s":0.449},{"g":"a","t":1965,"s":0.449},{"g":"a","t":2264,"s":0.373},{"g":"a","t":2349,"s":0.373},{"g":"a","t":2495,"s":0.373},{"g":"a","t":3515,"s":0.373},{"g":"a","t":3724,"s":0.373},
{"g":"b","t":330,"s":0.75},{"g":"b","t":368,"s":0.72},{"g":"b","t":384,"s":0.71},{"g":"b","t":394,"s":0.7},{"g":"b","t":464,"s":0.646},{"g":"b","t":480,"s":0.63},{"g":"b","t":606,"s":0.55},{"g":"b","t":622,"s":0.55},{"g":"b","t":686,"s":0.527},{"g":"b","t":708,"s":0.527},{"g":"b","t":733,"s":0.527},{"g":"b","t":749,"s":0.527},{"g":"b","t":860,"s":0.487},{"g":"b","t":883,"s":0.449},{"g":"b","t":908,"s":0.449},{"g":"b","t":927,"s":0.449},{"g":"b","t":972,"s":0.423},{"g":"b","t":1019,"s":0.423},{"g":"b","t":1108,"s":0.392},{"g":"b","t":1137,"s":0.392},{"g":"b","t":1156,"s":0.392},{"g":"b","t":1178,"s":0.392},{"g":"b","t":1321,"s":0.344},{"g":"b","t":1480,"s":0.344},{"g":"b","t":1686,"s":0.344},{"g":"b","t":1765,"s":0.344},{"g":"b","t":2029,"s":0.344},{"g":"b","t":2194,"s":0.344},
{"g":"c","t":114,"s":0.963},{"g":"c","t":241,"s":0.879},{"g":"c","t":368,"s":0.686},{"g":"c","t":432,"s":0.66},{"g":"c","t":511,"s":0.637},{"g":"c","t":527,"s":0.637},{"g":"c","t":860,"s":0.4},{"g":"c","t":987,"s":0.362},{"g":"c","t":1010,"s":0.362},{"g":"c","t":1029,"s":0.362},{"g":"c","t":1210,"s":0.362},{"g":"c","t":1223,"s":0.362},{"g":"c","t":2169,"s":0.181},{"g":"c","t":3543,"s":0.181}]},"mark":{"type":"point","shape":"M0,-1L0,0","filled":false,"strokeWidth":2,"size":1024,"opacity":1},"encoding":{"color":{"field":"g","type":"nominal","scale":{"domain":["a","b","c"],"range":["#ED6A7E","#5F9BF7","#5FD9A0"]},"legend":null}}},
{"data":{"values":[{"t":2822,"s":0.611,"k":"P=0.06 (log-lank)"}]},"mark":{"type":"text","fontSize":35,"color":"black"},"encoding":{"text":{"field":"k"}}},
{"data":{"values":[{"t":-942,"s":1,"k":"d"}]},"mark":{"type":"text","fontSize":29,"color":"black"},"encoding":{"text":{"field":"k"}}}
]}
],"spacing":144}
],"spacing":8}
],"spacing":65}
